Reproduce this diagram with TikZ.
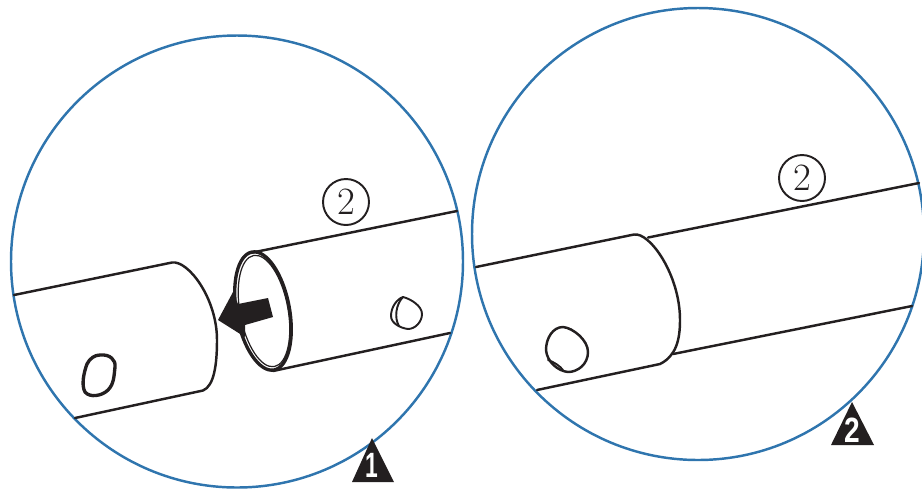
\documentclass[tikz,border=0pt]{standalone}
\usepackage{xcolor}
\usepackage{fontspec}
\newfontfamily\marksans{Liberation Sans}
\usetikzlibrary{positioning}
\definecolor{LensBlue}{HTML}{2F75AE}
\definecolor{TubeDark}{HTML}{231F20}
\tikzset{
  lensring/.style={line width=1.4pt,draw=LensBlue},
  tubeline/.style={line width=1.4pt,draw=TubeDark,line cap=round,line join=round},
  partmark/.style={circle,draw=TubeDark,line width=1.1pt,minimum size=0.92cm,inner sep=0pt,font=\fontsize{22}{22}\selectfont,text=TubeDark},
  stepmark/.style={fill=TubeDark},
  stepdigit/.style={text=white,inner sep=0pt,font=\marksans\bfseries\fontsize{20}{20}\selectfont}
}
\begin{document}
\begin{tikzpicture}[x=0.02cm,y=-0.02cm]
\useasboundingbox (0,0) rectangle (922,488);
% left lens
\draw[lensring] (237,261.5) circle [radius=226];
\draw[tubeline] (14,295)--(172,262.5) .. controls (188,260) and (217,298) .. (217,340) .. controls (217,365) and (214,386) .. (203,390.5)--(75,418);
\draw[tubeline] (250,253)--(457,211);
\draw[tubeline] (273,371)--(450,333);
\draw[tubeline,line width=1.9pt] (263,311) circle [x radius=60,y radius=26.5,rotate=-79.4];
\draw[tubeline,line width=0.7pt] (264,311) circle [x radius=56.5,y radius=24,rotate=-79.4];
\fill[TubeDark] (218,320)--(233,292)--(238,304)--(268,298)--(273,317)--(245,325)--(245,337)--cycle;
% pin and hole
\draw[tubeline,line width=1.9pt] (100,355) .. controls (110,354) and (116,360) .. (115,367) .. controls (114,376) and (114,384) .. (108,390) .. controls (102,396) and (90,398) .. (85,392) .. controls (81,385) and (84,372) .. (87,364) .. controls (90,358) and (95,355) .. (100,355)--cycle;
\draw[tubeline,line width=1.1pt] (403,297) .. controls (411,299) and (422,306) .. (422,314) .. controls (422,322) and (415,329) .. (408,329) .. controls (400,328) and (391,323) .. (391,316) .. controls (391,307) and (397,299) .. (403,297)--cycle;
\draw[tubeline,line width=1.1pt] (403,297) .. controls (396,304) and (394,318) .. (399,326);
\node[partmark] (partleft) at (346,202) {2};
\fill[stepmark] (372,438)--(394,482)--(352,482)--cycle;
\node[stepdigit] (stepone) at (372,465) {\scalebox{0.65}[1]{1}};
% right lens
\draw[lensring] (698,234) circle [radius=226];
\draw[tubeline] (476,267)--(634,234.5) .. controls (650,232) and (680,275) .. (680,320) .. controls (680,340) and (676,356) .. (660,364)--(537,390);
\draw[tubeline] (648,237.5)--(919,183);
\draw[tubeline] (673,354)--(912,306);
\draw[tubeline,line width=1.4pt] (563,327) .. controls (573,328) and (588,340) .. (588,352) .. controls (588,364) and (578,372) .. (568,372) .. controls (558,371) and (547,362) .. (546,350) .. controls (546,338) and (553,327) .. (563,327)--cycle;
\fill[TubeDark] (563,327) .. controls (568,326) and (575,329) .. (578,335) .. controls (573,330) and (568,329) .. (563,327)--cycle;
\draw[tubeline,line width=1.1pt] (548,360) .. controls (554,362) and (560,366) .. (563,370);
\node[partmark] (partright) at (802,178) {2};
\fill[stepmark] (852,402)--(874,445)--(831,445)--cycle;
\node[stepdigit] (steptwo) at (852,430) {\scalebox{0.8}[1]{2}};
\end{tikzpicture}
\end{document}
